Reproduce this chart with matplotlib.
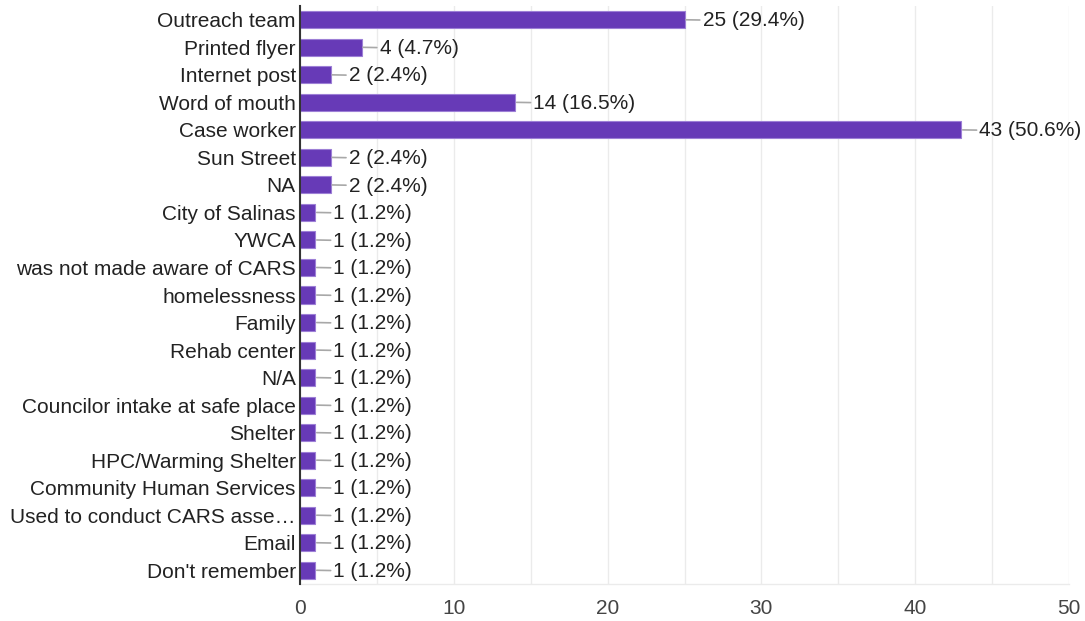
import matplotlib
matplotlib.use("Agg")
import matplotlib.pyplot as plt
from matplotlib.ticker import MultipleLocator

categories = [
    "Outreach team", "Printed flyer", "Internet post", "Word of mouth",
    "Case worker", "Sun Street", "NA", "City of Salinas", "YWCA",
    "was not made aware of CARS", "homelessness", "Family", "Rehab center",
    "N/A", "Councilor intake at safe place", "Shelter", "HPC/Warming Shelter",
    "Community Human Services", "Used to conduct CARS asse\u2026", "Email",
    "Don't remember",
]
counts = [25, 4, 2, 14, 43, 2, 2, 1, 1, 1, 1, 1, 1, 1, 1, 1, 1, 1, 1, 1, 1]
percents = [29.4, 4.7, 2.4, 16.5, 50.6, 2.4, 2.4, 1.2, 1.2, 1.2, 1.2, 1.2,
            1.2, 1.2, 1.2, 1.2, 1.2, 1.2, 1.2, 1.2, 1.2]
x_ticks = [0, 10, 20, 30, 40, 50]

plt.rcParams["font.family"] = ["Liberation Sans", "DejaVu Sans"]
FS = 15

fig = plt.figure(figsize=(10.85, 6.21), dpi=100)
ax = fig.add_axes([300 / 1085, 37 / 621, 769 / 1085, 578 / 621])

y = list(range(len(categories)))
ax.barh(y, counts, height=0.62, color="#673ab7", edgecolor="#9d7fd6",
        linewidth=0.8, zorder=3)

for yi, c, p in zip(y, counts, percents):
    ax.annotate(f"{c} ({p}%)", xy=(c, yi), xytext=(13, -0.8),
                textcoords="offset points", va="center", ha="left",
                fontsize=FS, color="#222222",
                arrowprops=dict(arrowstyle="-", color="#a8a8a8", lw=1.2,
                                shrinkA=0, shrinkB=1))

ax.set_ylim(len(categories) - 0.5, -0.5)
ax.set_xlim(0, 50)
ax.set_yticks(y)
ax.set_yticklabels(categories, fontsize=FS, color="#222222")
ax.set_xticks(x_ticks)
ax.set_xticklabels([str(t) for t in x_ticks], fontsize=FS, color="#444444")
ax.xaxis.set_minor_locator(MultipleLocator(5))
ax.tick_params(axis="y", length=0, pad=3)
ax.tick_params(axis="x", which="both", length=0, pad=11)

ax.grid(axis="x", which="both", color="#ebebeb", linewidth=1.0, zorder=0)
ax.set_axisbelow(True)

for side in ("top", "right"):
    ax.spines[side].set_visible(False)
ax.spines["left"].set_color("#333333")
ax.spines["left"].set_linewidth(1.5)
ax.spines["left"].set_zorder(4)
ax.spines["bottom"].set_color("#ebebeb")
ax.spines["bottom"].set_linewidth(1.0)

fig.savefig("out.png", dpi=100, facecolor="white")
